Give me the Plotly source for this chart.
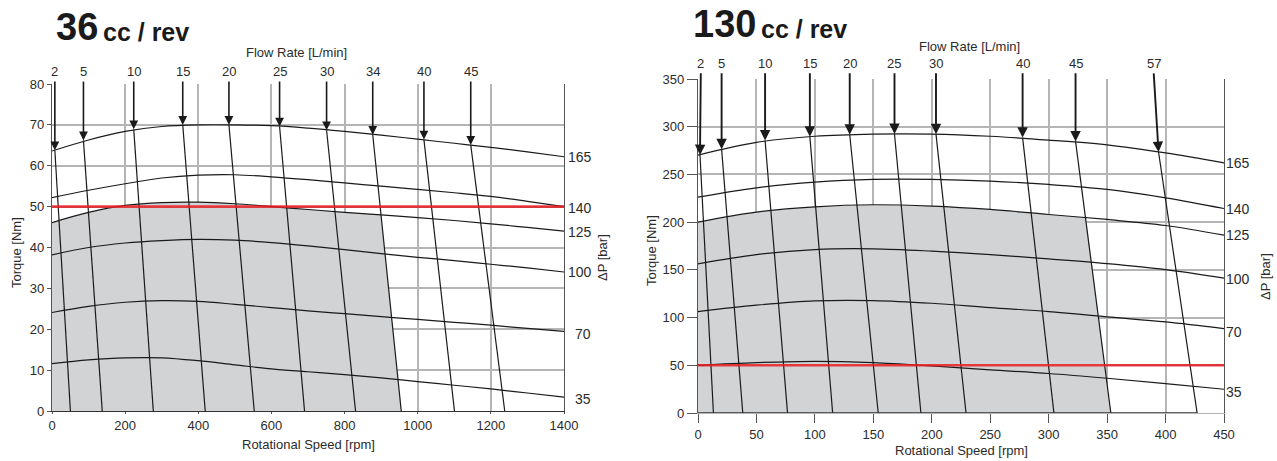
import plotly.graph_objects as go

W, H = 1277, 461
FONT = "Liberation Sans, Arial, sans-serif"
TXT = "#2b2b2b"
GRID = "#b5b5b5"
AXL = "#555555"

# ---------------- 36 cc / rev ----------------
rpm36 = [0, 100, 200, 300, 400, 500, 600, 700, 800, 900, 1000, 1100, 1200, 1300, 1400]
t36_165 = [63.6, 66.3, 68.4, 69.6, 70.0, 70.0, 69.8, 69.2, 68.4, 67.5, 66.5, 65.5, 64.5, 63.4, 62.2]
t36_140 = [52.2, 54.0, 55.6, 57.0, 57.7, 57.8, 57.3, 56.6, 55.8, 55.0, 54.2, 53.4, 52.5, 51.3, 50.0]
t36_125 = [46.1, 48.6, 50.3, 51.0, 51.1, 50.7, 50.0, 49.3, 48.6, 48.0, 47.3, 46.6, 45.8, 44.9, 44.0]
t36_100 = [38.2, 40.0, 41.1, 41.7, 42.0, 41.8, 41.2, 40.4, 39.5, 38.5, 37.6, 36.8, 35.9, 35.0, 34.0]
t36_70 = [24.1, 25.6, 26.6, 27.0, 26.8, 26.1, 25.3, 24.5, 23.8, 23.1, 22.4, 21.7, 21.0, 20.2, 19.5]
t36_35 = [11.6, 12.5, 13.0, 13.0, 12.3, 11.3, 10.3, 9.6, 8.9, 8.1, 7.2, 6.3, 5.4, 4.4, 3.4]
dp36_labels = ["165", "140", "125", "100", "70", "35"]

flow36_labels = ["2", "5", "10", "15", "20", "25", "30", "34", "40", "45"]
flow36_top_rpm = [7.8, 86, 223.5, 357.5, 483.8, 622.3, 750.8, 877, 1017, 1145]
flow36_top_torque = [63.8, 66.2, 68.9, 70.0, 70.0, 69.6, 68.7, 67.6, 66.4, 65.1]
flow36_bottom_rpm = [50.3, 137.4, 277, 419, 553, 690.5, 830, 955, 1100.5, 1238]

shade36_rpm = [0, 100, 200, 300, 400, 500, 600, 700, 800, 900, 955]
shade36_torque = [46.1, 48.6, 50.3, 51.0, 51.1, 50.7, 50.0, 49.3, 48.6, 48.0, 0]
limit36 = 50

# ---------------- 130 cc / rev ----------------
rpm130 = [0, 50, 100, 150, 200, 250, 300, 350, 400, 450]
t130_165 = [270.3, 283.6, 290.0, 292.3, 292.3, 290.0, 286.0, 281.0, 272.5, 262.0]
t130_140 = [226.2, 236.0, 242.0, 244.8, 244.8, 243.0, 239.5, 234.3, 225.5, 214.3]
t130_125 = [200.0, 210.5, 216.0, 218.2, 216.8, 213.3, 208.0, 202.8, 196.5, 186.4]
t130_100 = [156.3, 166.0, 171.3, 172.0, 169.6, 166.0, 161.5, 156.6, 150.3, 141.3]
t130_70 = [106.3, 113.0, 117.5, 117.8, 115.0, 110.5, 106.3, 100.7, 95.5, 88.5]
t130_35 = [50.0, 52.8, 54.2, 52.8, 49.3, 45.2, 41.4, 36.4, 30.8, 24.9]
dp130_labels = ["165", "140", "125", "100", "70", "35"]

flow130_labels = ["2", "5", "10", "15", "20", "25", "30", "40", "45", "57"]
flow130_label_rpm = [2.4, 20.2, 57.4, 95.7, 129.8, 168.1, 203.6, 277.7, 323, 389.8]
flow130_top_rpm = [1.7, 20.2, 57.4, 95.7, 129.8, 168.1, 203.6, 277.7, 323, 394]
flow130_top_torque = [270.3, 276.5, 285.5, 289.6, 291.6, 292.3, 292.2, 288.6, 284.6, 273.5]
flow130_bottom_rpm = [13.2, 38.3, 76.6, 115.2, 154.2, 190.7, 229.3, 304.5, 353.2, 427]

shade130_rpm = [0, 50, 100, 150, 200, 250, 300, 332, 353.2]
shade130_torque = [200.0, 210.5, 216.0, 218.2, 216.8, 213.3, 208.0, 204.5, 0]
limit130 = 50


def px_x(p):
    return p / W


def px_y(p):
    return 1 - p / H


fig = go.Figure()
ann = []


def add_chart(xa, ya, rpm, curves, dp_labels, flow_labels, flow_label_rpm, flow_top_rpm,
              flow_top_torque, flow_bottom_rpm, shade_rpm, shade_torque, limit,
              xmax, lab_py, tail_y, dp_shift, arrow_w):
    xr = xa.replace("axis", "")
    yr = ya.replace("axis", "")
    # shaded operating area
    fig.add_trace(go.Scatter(x=shade_rpm, y=shade_torque, mode="lines", fill="tozeroy",
                             fillcolor="#d2d3d5", line=dict(width=0, color="#d2d3d5"),
                             xaxis=xr, yaxis=yr, hoverinfo="skip", showlegend=False))
    # constant pressure curves
    for c in curves:
        fig.add_trace(go.Scatter(x=rpm, y=c, mode="lines", line=dict(color="#1a1a1a", width=1.2, shape="spline"),
                                 xaxis=xr, yaxis=yr, hoverinfo="skip", showlegend=False))
    # constant flow lines
    for i in range(len(flow_labels)):
        fig.add_trace(go.Scatter(x=[flow_top_rpm[i], flow_bottom_rpm[i]], y=[flow_top_torque[i], 0],
                                 mode="lines", line=dict(color="#1a1a1a", width=1.2),
                                 xaxis=xr, yaxis=yr, hoverinfo="skip", showlegend=False))
        ann.append(dict(x=flow_top_rpm[i], y=flow_top_torque[i], xref=xr, yref=yr,
                        ax=flow_label_rpm[i], ay=tail_y, axref=xr, ayref=yr, text="",
                        showarrow=True, arrowhead=2, arrowsize=1.1, arrowwidth=arrow_w,
                        arrowcolor="#1a1a1a", standoff=0))
        ann.append(dict(x=flow_label_rpm[i], y=px_y(lab_py), xref=xr, yref="paper", text=flow_labels[i],
                        showarrow=False, font=dict(size=13, color=TXT, family=FONT),
                        xanchor="center", yanchor="middle"))
    # red limit line
    fig.add_trace(go.Scatter(x=[0, xmax], y=[limit, limit], mode="lines",
                             line=dict(color="rgba(230,30,35,0.85)", width=2.6),
                             xaxis=xr, yaxis=yr, hoverinfo="skip", showlegend=False))
    # pressure labels on the right
    for lab, c, sh in zip(dp_labels, curves, dp_shift):
        ann.append(dict(x=xmax, y=c[-1], xref=xr, yref=yr, text=lab, showarrow=False,
                        xanchor="left", yanchor="middle", xshift=sh[0], yshift=sh[1],
                        font=dict(size=14, color=TXT, family=FONT)))


add_chart("xaxis", "yaxis", rpm36, [t36_165, t36_140, t36_125, t36_100, t36_70, t36_35],
          dp36_labels, flow36_labels, flow36_top_rpm, flow36_top_rpm, flow36_top_torque,
          flow36_bottom_rpm, shade36_rpm, shade36_torque, limit36, 1400,
          71, 81.0, [(2, 0), (2, -1), (2, -1), (2, 0), (9, -3), (9, -2)], 1.6)
add_chart("xaxis2", "yaxis2", rpm130, [t130_165, t130_140, t130_125, t130_100, t130_70, t130_35],
          dp130_labels, flow130_labels, flow130_label_rpm, flow130_top_rpm, flow130_top_torque,
          flow130_bottom_rpm, shade130_rpm, shade130_torque, limit130, 450,
          63, 357.5, [(0, 0), (0, 0), (0, 0), (0, -1), (0, -3), (0, -3)], 1.9)

# dark base line under the 130 cc chart curves
fig.add_trace(go.Scatter(x=[0, flow130_bottom_rpm[-1]], y=[0, 0], mode="lines",
                         line=dict(color="#333333", width=1.5), xaxis="x2", yaxis="y2",
                         hoverinfo="skip", showlegend=False))

# titles
ann += [
    dict(x=px_x(54), y=px_y(27), xref="paper", yref="paper", text="<b>36</b>", showarrow=False,
         xanchor="left", yanchor="middle", font=dict(size=38, color="#1a1a1a", family=FONT)),
    dict(x=px_x(101), y=px_y(32), xref="paper", yref="paper", text="<b>cc / rev</b>", showarrow=False,
         xanchor="left", yanchor="middle", font=dict(size=25, color="#1a1a1a", family=FONT)),
    dict(x=px_x(691), y=px_y(24), xref="paper", yref="paper", text="<b>130</b>", showarrow=False,
         xanchor="left", yanchor="middle", font=dict(size=38, color="#1a1a1a", family=FONT)),
    dict(x=px_x(759), y=px_y(29), xref="paper", yref="paper", text="<b>cc / rev</b>", showarrow=False,
         xanchor="left", yanchor="middle", font=dict(size=25, color="#1a1a1a", family=FONT)),
    dict(x=px_x(296), y=px_y(52), xref="paper", yref="paper", text="Flow Rate [L/min]", showarrow=False,
         xanchor="center", yanchor="middle", font=dict(size=13, color=TXT, family=FONT)),
    dict(x=px_x(969), y=px_y(47), xref="paper", yref="paper", text="Flow Rate [L/min]", showarrow=False,
         xanchor="center", yanchor="middle", font=dict(size=13, color=TXT, family=FONT)),
    dict(x=px_x(308), y=px_y(444), xref="paper", yref="paper", text="Rotational Speed [rpm]", showarrow=False,
         xanchor="center", yanchor="middle", font=dict(size=13, color=TXT, family=FONT)),
    dict(x=px_x(961), y=px_y(450), xref="paper", yref="paper", text="Rotational Speed [rpm]", showarrow=False,
         xanchor="center", yanchor="middle", font=dict(size=13, color=TXT, family=FONT)),
    dict(x=px_x(16), y=px_y(253), xref="paper", yref="paper", text="Torque [Nm]", showarrow=False,
         textangle=-90, xanchor="center", yanchor="middle", font=dict(size=13, color=TXT, family=FONT)),
    dict(x=px_x(651), y=px_y(251), xref="paper", yref="paper", text="Torque [Nm]", showarrow=False,
         textangle=-90, xanchor="center", yanchor="middle", font=dict(size=13, color=TXT, family=FONT)),
    dict(x=px_x(602), y=px_y(258), xref="paper", yref="paper", text="ΔP [bar]", showarrow=False,
         textangle=-90, xanchor="center", yanchor="middle", font=dict(size=13, color=TXT, family=FONT)),
    dict(x=px_x(1265), y=px_y(277), xref="paper", yref="paper", text="ΔP [bar]", showarrow=False,
         textangle=-90, xanchor="center", yanchor="middle", font=dict(size=13, color=TXT, family=FONT)),
]

tickfont = dict(size=13, color=TXT, family=FONT)
common_ax = dict(showgrid=True, gridcolor=GRID, gridwidth=1.5, zeroline=False, showline=True,
                 linecolor=AXL, linewidth=1.3, ticks="outside", tickcolor=AXL, tickfont=tickfont,
                 fixedrange=True, automargin=False)

fig.update_layout(
    template="none",
    width=W, height=H, margin=dict(l=0, r=0, t=0, b=0, pad=0, autoexpand=False),
    paper_bgcolor="white", plot_bgcolor="white", showlegend=False,
    xaxis=dict(common_ax, domain=[px_x(52), px_x(564)], range=[0, 1400], tickvals=list(range(0, 1401, 200)),
               anchor="y", ticklen=2, linecolor="#333333"),
    yaxis=dict(common_ax, domain=[px_y(411), px_y(84)], range=[0, 80], tickvals=list(range(0, 81, 10)),
               anchor="x", ticklen=4, mirror=True),
    xaxis2=dict(common_ax, domain=[px_x(698), px_x(1224)], range=[0, 450], tickvals=list(range(0, 451, 50)),
                anchor="y2", ticklen=9, linecolor=GRID),
    yaxis2=dict(common_ax, domain=[px_y(413), px_y(79)], range=[0, 350], tickvals=list(range(0, 351, 50)),
                anchor="x2", ticklen=10, mirror=True),
    annotations=ann,
)

# remove the browser's default 8px body margin so the figure fills the window exactly
fig.write_html("out.html", config={"displayModeBar": False},
               post_script="document.body.style.margin='0px';")
